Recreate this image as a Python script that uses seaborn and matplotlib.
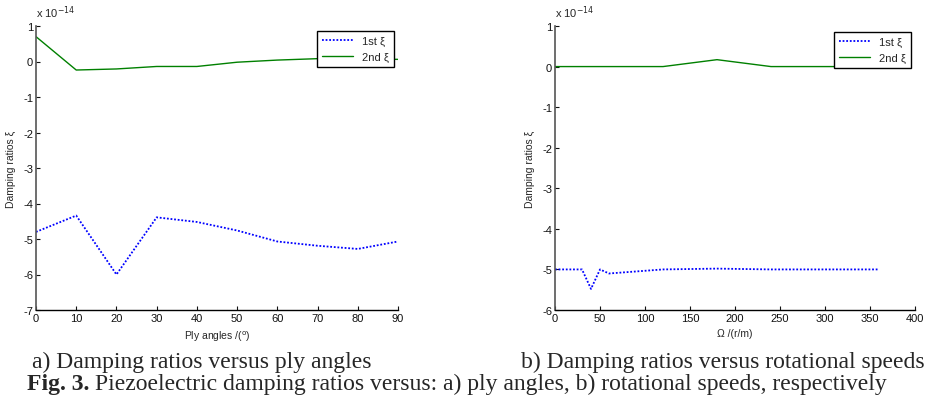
import numpy as np
import pandas as pd
import matplotlib
matplotlib.use('Agg')
import matplotlib.pyplot as plt
import seaborn as sns

# values (units of 1e-14)
ply_angles = [0, 10, 20, 30, 40, 50, 60, 70, 80, 90]
ply_xi1 = [-4.80, -4.34, -6.00, -4.39, -4.52, -4.76, -5.07, -5.19, -5.28, -5.07]
ply_xi2 = [0.70, -0.24, -0.21, -0.14, -0.14, -0.02, 0.04, 0.08, 0.08, 0.06]

speeds = [0, 30, 40, 50, 60, 90, 120, 180, 240, 300, 360]
speed_xi1 = [-5.00, -5.00, -5.48, -5.00, -5.10, -5.05, -5.00, -4.98, -5.00, -5.00, -5.00]
speed_xi2 = [0.00, 0.00, 0.00, 0.00, 0.00, 0.00, 0.00, 0.17, 0.00, 0.00, 0.00]

series_names = ['1st \u03be', '2nd \u03be']

sns.set_theme(style='ticks')
plt.rcParams['font.family'] = ['Liberation Sans', 'DejaVu Sans']
plt.rcParams['axes.unicode_minus'] = False
plt.rcParams['xtick.direction'] = 'in'
plt.rcParams['ytick.direction'] = 'in'

fig = plt.figure(figsize=(9.3, 4.02), dpi=100)
W, H = 930, 402


def make_axes(x0, x1, y0, y1):
    return fig.add_axes([x0 / W, 1 - y1 / H, (x1 - x0) / W, (y1 - y0) / H])


def draw_panel(ax, x, xi1, xi2, xlim, ylim, xticks, xlabel, leg_box):
    df = pd.DataFrame({'x': x + x, 'xi': xi1 + xi2,
                       'mode': [series_names[0]] * len(x) + [series_names[1]] * len(x)})
    sns.lineplot(data=df, x='x', y='xi', hue='mode', style='mode',
                 palette=['#0000ff', '#008000'], dashes=[(1, 1), ''],
                 ax=ax, legend=False)
    lines = ax.get_lines()
    lines[0].set_linewidth(1.3)
    lines[1].set_linewidth(1.0)
    ax.set_xlim(*xlim)
    ax.set_ylim(*ylim)
    ax.set_xticks(xticks)
    ax.set_yticks(range(ylim[0], ylim[1] + 1))
    ax.tick_params(labelsize=8, length=3, width=0.8, colors='#111111', pad=2)
    for s in ['top', 'right']:
        ax.spines[s].set_visible(False)
    ax.spines['left'].set_linewidth(1.2)
    ax.spines['left'].set_color('#555555')
    ax.spines['bottom'].set_linewidth(1.0)
    ax.spines['bottom'].set_color('black')
    ax.set_xlabel(xlabel, fontsize=7.5, labelpad=4)
    ax.set_ylabel('Damping ratios \u03be', fontsize=7.5, labelpad=5)
    ax.text(0.0, 1.02, 'x 10$^{-14}$', transform=ax.transAxes,
            fontsize=8, ha='left', va='bottom')
    leg = ax.legend(lines, series_names, fontsize=8, frameon=True,
                    fancybox=False, edgecolor='black', framealpha=1,
                    handlelength=2.8, borderpad=0.45, labelspacing=0.55,
                    loc='upper left', bbox_to_anchor=leg_box,
                    bbox_transform=fig.transFigure, borderaxespad=0)
    leg.get_frame().set_linewidth(1.0)


ax1 = make_axes(36, 398, 27, 311)
draw_panel(ax1, ply_angles, ply_xi1, ply_xi2, (0, 90), (-7, 1),
           range(0, 91, 10), 'Ply angles /($^{\\rm o}$)', (317 / W, 1 - 32 / H))

ax2 = make_axes(555, 915, 27, 311)
draw_panel(ax2, speeds, speed_xi1, speed_xi2, (0, 400), (-6, 1),
           range(0, 401, 50), '\u03a9 /(r/m)', (834 / W, 1 - 33 / H))

# captions
serif = ['Liberation Serif', 'DejaVu Serif']
fig.text(32 / W, 1 - 368 / H, 'a) Damping ratios versus ply angles',
         family=serif, fontsize=17, ha='left', va='baseline')
fig.text(925 / W, 1 - 368 / H, 'b) Damping ratios versus rotational speeds',
         family=serif, fontsize=17, ha='right', va='baseline')
t = fig.text(27 / W, 1 - 390 / H, 'Fig. 3.', family=serif, fontsize=17,
             fontweight='bold', ha='left', va='baseline')
fig.canvas.draw()
bb = t.get_window_extent()
fig.text((bb.x1 + 6) / W, 1 - 390 / H,
         'Piezoelectric damping ratios versus: a) ply angles, b) rotational speeds, respectively',
         family=serif, fontsize=17, ha='left', va='baseline')

fig.savefig('out.png', dpi=100, facecolor='white')
